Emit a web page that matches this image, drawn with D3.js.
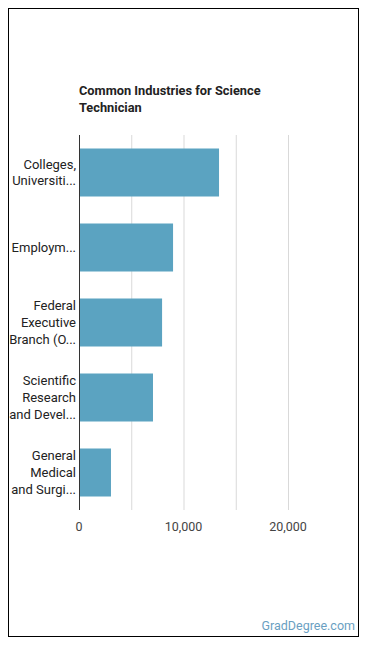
<!DOCTYPE html>
<html>
<head>
<meta charset="utf-8">
<script src="https://cdn.jsdelivr.net/npm/d3@7"></script>
<style>
  body { margin: 0; background: #fff; font-family: Roboto, sans-serif; }
</style>
</head>
<body>
<div id="chart"></div>
<script>
const industries = [
  ['Colleges,', 'Universiti...'],
  ['Employm...'],
  ['Federal', 'Executive', 'Branch (O...'],
  ['Scientific', 'Research', 'and Devel...'],
  ['General', 'Medical', 'and Surgi...']
];
const employees = [13400, 9000, 7950, 7080, 3060];
const ticks = [0, 10000, 20000];
const gridTicks = [5000, 10000, 15000, 20000];

const width = 370, height = 648;
const plotLeft = 79, plotTop = 135, plotBottom = 510;

const svg = d3.select('#chart').append('svg')
  .attr('width', width)
  .attr('height', height);

// frame
svg.append('rect')
  .attr('x', 8.5).attr('y', 8.5)
  .attr('width', 350).attr('height', 628)
  .attr('fill', 'none').attr('stroke', '#000');

// title
svg.append('text')
  .attr('x', 79).attr('y', 95)
  .attr('font-size', 12.8).attr('font-weight', 'bold').attr('fill', '#222')
  .selectAll('tspan')
  .data(['Common Industries for Science', 'Technician'])
  .enter().append('tspan')
  .attr('x', 79).attr('dy', (d, i) => i ? 17 : 0)
  .text(d => d);

const x = d3.scaleLinear().domain([0, 20000]).range([plotLeft, 288]);
const y = d3.scaleBand().domain(d3.range(employees.length))
  .range([plotTop, plotBottom]).paddingInner(0.36).paddingOuter(0.18);

// gridlines
svg.append('g').selectAll('line')
  .data(gridTicks)
  .enter().append('line')
  .attr('x1', d => x(d) + 0.5).attr('x2', d => x(d) + 0.5)
  .attr('y1', plotTop).attr('y2', plotBottom)
  .attr('stroke', '#d9d9d9');

// bars
svg.append('g').selectAll('rect')
  .data(employees)
  .enter().append('rect')
  .attr('x', x(0))
  .attr('y', (d, i) => y(i))
  .attr('width', d => x(d) - x(0))
  .attr('height', y.bandwidth())
  .attr('fill', '#5ba3c1');

// axis line
svg.append('line')
  .attr('x1', plotLeft + 0.5).attr('x2', plotLeft + 0.5)
  .attr('y1', plotTop).attr('y2', plotBottom)
  .attr('stroke', '#333');

// category labels
const lineH = 16.8;
svg.append('g').selectAll('text')
  .data(industries)
  .enter().append('text')
  .attr('text-anchor', 'end')
  .attr('font-size', 13).attr('fill', '#222')
  .each(function (lines, i) {
    const cy = y(i) + y.bandwidth() / 2;
    const y0 = cy - (lines.length - 1) * lineH / 2 + 4.5;
    d3.select(this).selectAll('tspan')
      .data(lines)
      .enter().append('tspan')
      .attr('x', 76)
      .attr('y', (d, j) => y0 + j * lineH)
      .text(d => d);
  });

// x axis ticks
svg.append('g').selectAll('text')
  .data(ticks)
  .enter().append('text')
  .attr('x', d => x(d))
  .attr('y', 531)
  .attr('text-anchor', 'middle')
  .attr('font-size', 12.5).attr('fill', '#444')
  .text(d3.format(','));

// watermark
svg.append('text')
  .attr('x', 355).attr('y', 630)
  .attr('text-anchor', 'end')
  .attr('font-size', 12.5).attr('fill', '#6a9fc2')
  .text('GradDegree.com');
</script>
</body>
</html>
